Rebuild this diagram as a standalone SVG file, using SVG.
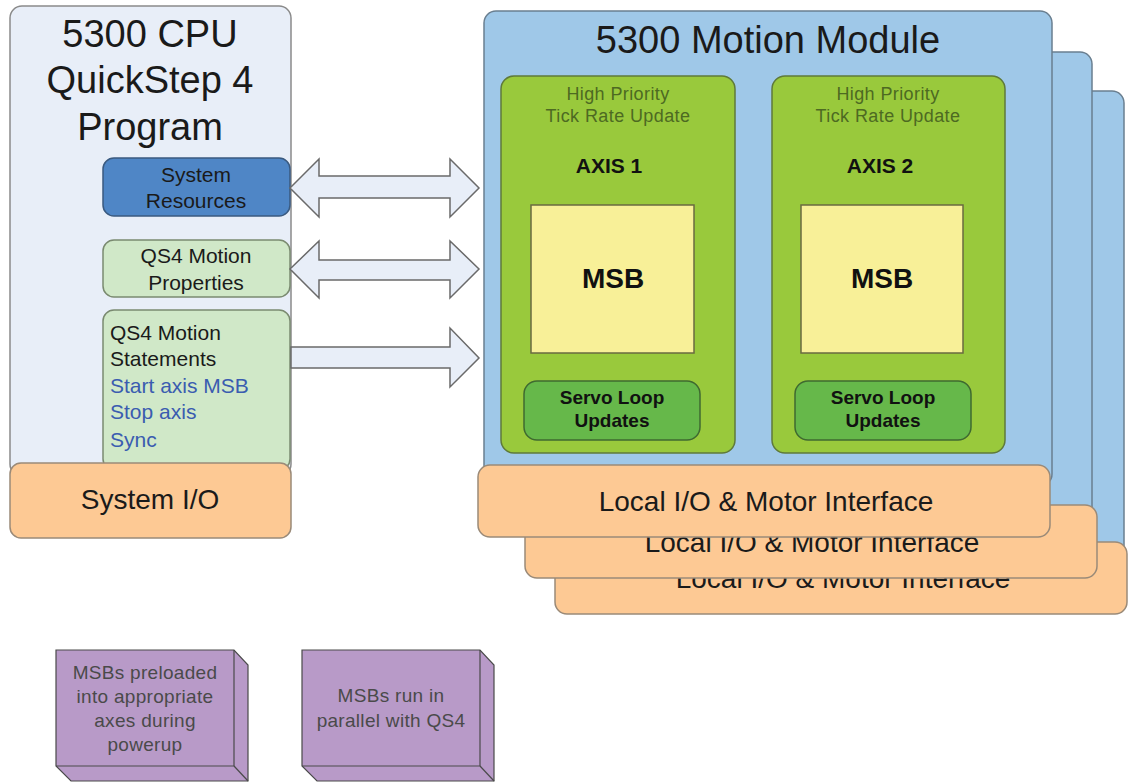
<svg xmlns="http://www.w3.org/2000/svg" width="1128" height="782" viewBox="0 0 1128 782">
<defs>
<style>
text{font-family:"Liberation Sans",Arial,sans-serif;}
.cpu{fill:#e8eef8;stroke:#8a8a8a;stroke-width:1.5;}
.blue{fill:#9fc8e8;stroke:#6a7f90;stroke-width:1.5;}
.orange{fill:#fdc994;stroke:#9a8a78;stroke-width:1.5;}
.axis{fill:#99c93c;stroke:#5f7a3a;stroke-width:1.5;}
.msb{fill:#f8f098;stroke:#6a6a40;stroke-width:1.5;}
.servo{fill:#66b84a;stroke:#3f6a30;stroke-width:1.5;}
.arrow{fill:#e8eef8;stroke:#6a6a6a;stroke-width:1.5;stroke-linejoin:miter;}
.purple{fill:#b89ac8;stroke:#4a4a4a;stroke-width:1.2;}
.edge{stroke:#4a4a4a;stroke-width:1.2;}
.big{font-size:38px;fill:#1a1a1a;text-anchor:middle;}
.mid{font-size:21px;fill:#1a1a1a;}
.blu{font-size:21px;fill:#3a5cb0;}
.io{font-size:28px;fill:#1a1a1a;text-anchor:middle;}
.hp{font-size:18px;fill:#4d6a22;text-anchor:middle;letter-spacing:0.4px;}
.ax{font-size:21px;font-weight:bold;fill:#111;text-anchor:middle;}
.ms{font-size:28px;font-weight:bold;fill:#111;text-anchor:middle;}
.sv{font-size:19px;font-weight:bold;fill:#111;text-anchor:middle;}
.note{font-size:19px;fill:#4a4a4a;text-anchor:middle;letter-spacing:0.3px;}
</style>
</defs>

<g id="cpu">
<rect class="cpu" x="10" y="6" width="281" height="470" rx="12"/>
<text class="big" x="150" y="47">5300 CPU</text>
<text class="big" x="150" y="93">QuickStep 4</text>
<text class="big" x="150" y="140">Program</text>
</g>

<g id="system-resources">
<rect x="103" y="158" width="187" height="58" rx="11" fill="#4f86c6" stroke="#3a5a80" stroke-width="1.5"/>
<text class="mid" x="196" y="182" text-anchor="middle">System</text>
<text class="mid" x="196" y="208" text-anchor="middle">Resources</text>
</g>

<g id="motion-properties">
<rect x="103" y="240" width="187" height="57" rx="11" fill="#d0e8c8" stroke="#7a8a70" stroke-width="1.5"/>
<text class="mid" x="196" y="263" text-anchor="middle">QS4 Motion</text>
<text class="mid" x="196" y="290" text-anchor="middle">Properties</text>
</g>

<g id="motion-statements">
<rect x="103" y="310" width="187" height="160" rx="11" fill="#d0e8c8" stroke="#7a8a70" stroke-width="1.5"/>
<text class="mid" x="110" y="340">QS4 Motion</text>
<text class="mid" x="110" y="366">Statements</text>
<text class="blu" x="110" y="393">Start axis MSB</text>
<text class="blu" x="110" y="419">Stop axis</text>
<text class="blu" x="110" y="447">Sync</text>
</g>

<g id="system-io">
<rect class="orange" x="10" y="463" width="281" height="75" rx="11"/>
<text class="io" x="150" y="509">System I/O</text>
</g>

<g id="connectors">
<polygon class="arrow" points="290,188 319,159 319,176 450,176 450,159 479,188 450,217 450,198 319,198 319,217"/>
<polygon class="arrow" points="290,269 319,241 319,260 450,260 450,241 479,269 450,298 450,280 319,280 319,298"/>
<polygon class="arrow" points="291,347 450,347 450,328 479,358 450,387 450,368 291,368"/>
</g>

<g id="motion-module-3">
<rect class="blue" x="558" y="91" width="566" height="470" rx="12"/>
<rect class="orange" x="555" y="542" width="572" height="72" rx="12"/>
<text class="io" x="843" y="588">Local I/O &amp; Motor Interface</text>
</g>

<g id="motion-module-2">
<rect class="blue" x="526" y="52" width="566" height="470" rx="12"/>
<rect class="orange" x="525" y="505" width="572" height="73" rx="12"/>
<text class="io" x="812" y="552">Local I/O &amp; Motor Interface</text>
</g>

<g id="motion-module">
<rect class="blue" x="484" y="11" width="568" height="475" rx="12"/>
<text class="big" x="768" y="53">5300 Motion Module</text>
</g>

<g id="axis-1">
<rect class="axis" x="501" y="76" width="234" height="377" rx="13"/>
<text class="hp" x="618" y="100">High Priority</text>
<text class="hp" x="618" y="122">Tick Rate Update</text>
<text class="ax" x="609" y="173">AXIS 1</text>
<rect class="msb" x="531" y="205" width="163" height="148"/>
<text class="ms" x="613" y="288">MSB</text>
<rect class="servo" x="524" y="381" width="176" height="59" rx="13"/>
<text class="sv" x="612" y="404">Servo Loop</text>
<text class="sv" x="612" y="427">Updates</text>
</g>

<g id="axis-2">
<rect class="axis" x="772" y="76" width="233" height="377" rx="13"/>
<text class="hp" x="888" y="100">High Priority</text>
<text class="hp" x="888" y="122">Tick Rate Update</text>
<text class="ax" x="880" y="173">AXIS 2</text>
<rect class="msb" x="801" y="205" width="162" height="148"/>
<text class="ms" x="882" y="288">MSB</text>
<rect class="servo" x="795" y="381" width="176" height="59" rx="13"/>
<text class="sv" x="883" y="404">Servo Loop</text>
<text class="sv" x="883" y="427">Updates</text>
</g>

<g id="local-io">
<rect class="orange" x="478" y="465" width="572" height="72" rx="12"/>
<text class="io" x="766" y="511">Local I/O &amp; Motor Interface</text>
</g>

<g id="note-preload">
<polygon class="purple" points="56,650 234,650 248,665 248,781 71,781 56,766"/>
<line class="edge" x1="234" y1="650" x2="234" y2="766"/>
<line class="edge" x1="56" y1="766" x2="234" y2="766"/>
<line class="edge" x1="234" y1="766" x2="248" y2="781"/>
<text class="note" x="145" y="679">MSBs preloaded</text>
<text class="note" x="145" y="703">into appropriate</text>
<text class="note" x="145" y="727">axes during</text>
<text class="note" x="145" y="751">powerup</text>
</g>

<g id="note-parallel">
<polygon class="purple" points="302,650 480,650 494,665 494,781 317,781 302,766"/>
<line class="edge" x1="480" y1="650" x2="480" y2="766"/>
<line class="edge" x1="302" y1="766" x2="480" y2="766"/>
<line class="edge" x1="480" y1="766" x2="494" y2="781"/>
<text class="note" x="391" y="702">MSBs run in</text>
<text class="note" x="391" y="727">parallel with QS4</text>
</g>
</svg>
